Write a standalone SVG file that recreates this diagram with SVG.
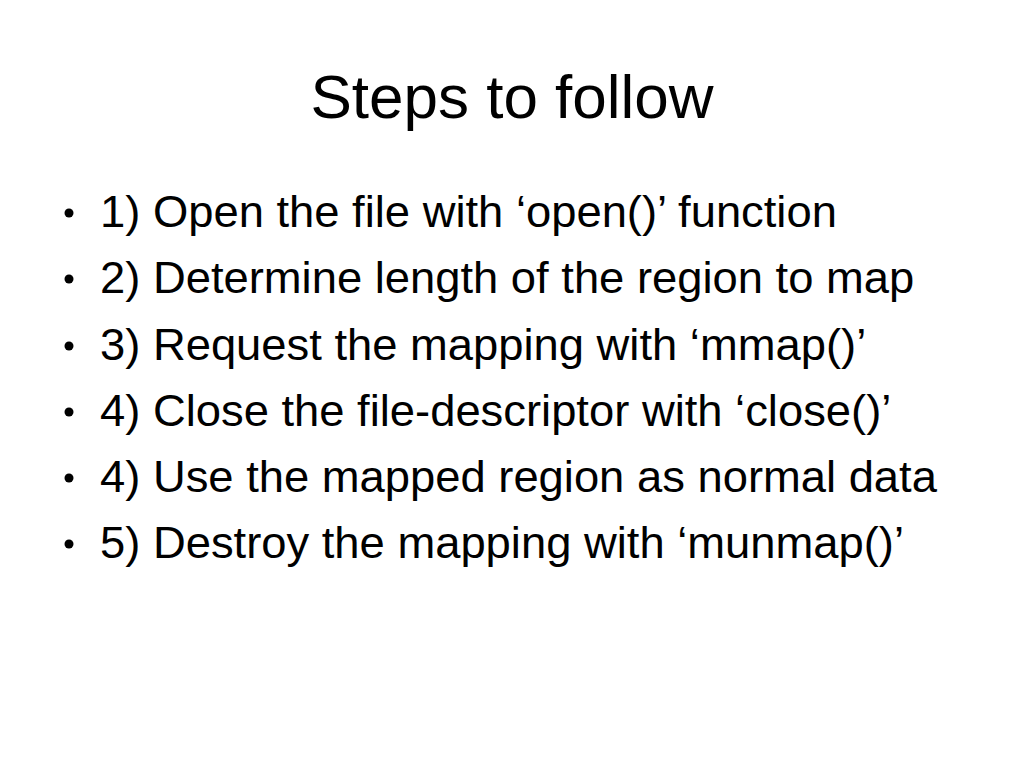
<svg xmlns="http://www.w3.org/2000/svg" width="1024" height="768" viewBox="0 0 1024 768">
<style>
.t{font-family:"Liberation Sans",Arial,sans-serif;fill:#000}
.title{font-size:62px}
.b{font-size:44px}
</style>
<rect width="1024" height="768" fill="#fff"/>
<g id="title"><text class="t title" x="512" y="118" text-anchor="middle">Steps to follow</text></g>
<g id="bullets" fill="#000">
<circle cx="69" cy="213" r="4.5"/>
<circle cx="69" cy="279" r="4.5"/>
<circle cx="69" cy="346" r="4.5"/>
<circle cx="69" cy="412" r="4.5"/>
<circle cx="69" cy="478" r="4.5"/>
<circle cx="69" cy="544" r="4.5"/>
</g>
<g id="items" transform="translate(100,0) scale(1.031,1)">
<text class="t b" x="0" y="227">1) Open the file with ‘open()’ function</text>
<text class="t b" x="0" y="293">2) Determine length of the region to map</text>
<text class="t b" x="0" y="360">3) Request the mapping with ‘mmap()’</text>
<text class="t b" x="0" y="426">4) Close the file-descriptor with ‘close()’</text>
<text class="t b" x="0" y="492">4) Use the mapped region as normal data</text>
<text class="t b" x="0" y="558">5) Destroy the mapping with ‘munmap()’</text>
</g>
</svg>
